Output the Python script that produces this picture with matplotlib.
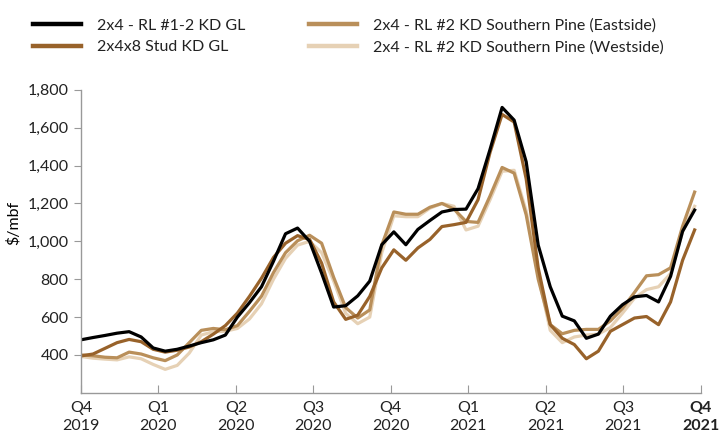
import numpy as np
import matplotlib
matplotlib.use("Agg")
import matplotlib.pyplot as plt

plt.rcParams.update({"font.family": ["Lato", "DejaVu Sans"], "font.size": 11.5,
                     "text.color": "#222", "xtick.color": "#222",
                     "ytick.color": "#222"})

# fortnightly prices, $/mbf, Q4 2019 through Q4 2021
weeks = np.linspace(0, 103, 52)

rl_kd_gl = [480, 492, 503, 515, 523, 495, 437, 420, 430, 447, 465, 480, 505,
            600, 676, 760, 895, 1040, 1070, 1000, 832, 653, 660, 712, 790,
            982, 1050, 982, 1063, 1110, 1155, 1168, 1170, 1278, 1486, 1707,
            1640, 1420, 980, 760, 605, 580, 488, 510, 605, 665, 707, 714, 680,
            815, 1053, 1165]
stud_kd_gl = [395, 405, 435, 465, 482, 470, 430, 415, 425, 442, 470, 510, 555,
              621, 709, 805, 915, 990, 1030, 1010, 885, 680, 588, 610, 709,
              860, 955, 900, 965, 1010, 1078, 1088, 1100, 1220, 1470, 1670,
              1630, 1330, 860, 560, 488, 455, 380, 420, 525, 560, 595, 603,
              560, 680, 900, 1060]
syp_east = [400, 396, 388, 385, 415, 405, 385, 370, 400, 465, 530, 540, 533,
            555, 630, 710, 835, 940, 1003, 1032, 990, 810, 650, 595, 638, 980,
            1155, 1143, 1143, 1180, 1200, 1170, 1105, 1100, 1240, 1390, 1360,
            1140, 800, 560, 512, 530, 535, 535, 580, 645, 730, 818, 824, 860,
            1080, 1260]
syp_west = [392, 383, 378, 374, 390, 380, 350, 324, 345, 410, 505, 523, 525,
            540, 590, 670, 800, 910, 980, 1000, 940, 790, 620, 565, 600, 940,
            1135, 1130, 1130, 1175, 1200, 1185, 1060, 1080, 1220, 1370, 1375,
            1160, 820, 530, 465, 495, 505, 510, 545, 620, 700, 745, 760, 830,
            1050, 1185]

quarters = ["Q4\n2019", "Q1\n2020", "Q2\n2020", "Q3\n2020", "Q4\n2020",
            "Q1\n2021", "Q2\n2021", "Q3\n2021", "Q4\n2021"]

series = [
    ("2x4 - RL #1-2 KD GL", rl_kd_gl, "#000000"),
    ("2x4x8 Stud KD GL", stud_kd_gl, "#98622a"),
    ("2x4 - RL #2 KD Southern Pine (Eastside)", syp_east, "#b98f5a"),
    ("2x4 - RL #2 KD Southern Pine (Westside)", syp_west, "#e6d1b5"),
]

fig = plt.figure(figsize=(7.23, 4.36), dpi=100)
ax = fig.add_axes([0.112, 0.099, 0.857, 0.695])

# draw pale lines first so the darker ones sit on top
for label, vals, color in reversed(series):
    ax.plot(weeks, vals, color=color, lw=2.3, label=label,
            solid_joinstyle="round")

ax.set_xlim(0, 104)
ax.set_ylim(200, 1800)
ax.set_yticks(range(400, 1801, 200))
ax.set_yticklabels([f"{v:,}" for v in range(400, 1801, 200)])
ax.set_xticks(np.arange(0, 105, 13))
ax.set_xticklabels(quarters, linespacing=1.35)
ax.get_xticklabels()[-1].set_fontweight("bold")
ax.set_ylabel("$/mbf")
ax.yaxis.set_label_coords(-0.097, 0.56)

for side in ["top", "right"]:
    ax.spines[side].set_visible(False)
for side in ["left", "bottom"]:
    ax.spines[side].set_color("#999")
    ax.spines[side].set_linewidth(1.0)
ax.tick_params(axis="y", direction="out", length=5, color="#999", pad=4)
ax.tick_params(axis="x", direction="in", length=6, color="#999", pad=6)

handles, labels = ax.get_legend_handles_labels()
leg = fig.legend(handles[::-1], labels[::-1], ncol=2, loc="upper left",
                 bbox_to_anchor=(0.026, 0.99), frameon=False,
                 handlelength=3.0, handletextpad=1.0, columnspacing=4.0,
                 labelspacing=0.45)
for line in leg.get_lines():
    line.set_linewidth(3.2)

fig.savefig("out.png", dpi=100, facecolor="white")
